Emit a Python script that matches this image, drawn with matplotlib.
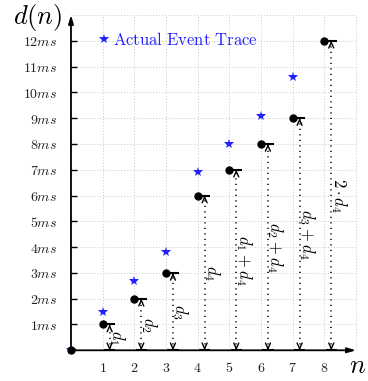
import matplotlib
matplotlib.use('Agg')
import matplotlib.pyplot as plt

plt.rcParams['mathtext.fontset'] = 'cm'
plt.rcParams['font.family'] = 'serif'

# data
n_vals = [0, 1, 2, 3, 4, 5, 6, 7, 8]
delay = [0, 1, 2, 3, 6, 7, 8, 9, 12]
actual_n = [0, 1, 2, 3, 4, 5, 6, 7]
actual = [0, 1.5, 2.7, 3.8, 6.9, 8.0, 9.1, 10.6]
delay_labels = [r'$d_1$', r'$d_2$', r'$d_3$', r'$d_4$', r'$d_1+d_4$',
                r'$d_2+d_4$', r'$d_3+d_4$', r'$2\cdot d_4$']
xticks = [1, 2, 3, 4, 5, 6, 7, 8]
yticks = list(range(1, 13))

fig = plt.figure(figsize=(3.68, 3.81), dpi=100)
ax = fig.add_axes([0.1929, 0.0806, 0.7916, 0.9005])
ax.set_xlim(0, 9.2)
ax.set_ylim(0, 13.3)

# grid
grid_kw = dict(color='#c8c8c8', lw=0.7, linestyles=(0, (1, 2)), zorder=0)
ax.vlines(range(1, 10), 0, 13, **grid_kw)
ax.hlines(range(1, 14), 0, 9, **grid_kw)

# axes arrows
for tip in [(9, 0), (0, 13)]:
    ax.annotate('', xy=tip, xytext=(0, 0), annotation_clip=False,
                arrowprops=dict(arrowstyle='-|>,head_length=0.5,head_width=0.15',
                                lw=1.3, color='black', shrinkA=0, shrinkB=0))

for spine in ax.spines.values():
    spine.set_visible(False)

# delay arrows
off = 0.22
for x, y in zip(n_vals[1:], delay[1:]):
    xa = x + off
    ax.vlines(xa, 0, y, color='black', lw=1.1, linestyles=(0, (0.8, 2.8)), zorder=2)
    ax.hlines([0, y], xa - 0.18, xa + 0.18, color='black', lw=1.5, zorder=3)
    for end, start in [(y, y - 0.05), (0, 0.05)]:
        ax.annotate('', xy=(xa, end), xytext=(xa, start),
                    arrowprops=dict(arrowstyle='->,head_length=0.4,head_width=0.18',
                                    lw=1.0, color='black', shrinkA=0, shrinkB=0))

for x, y, lab in zip(n_vals[1:], delay[1:], delay_labels):
    ax.text(x + 0.45, y / 2, lab, rotation=-90, ha='center', va='center',
            fontsize=12, color='black')

ax.plot(actual_n, actual, linestyle='none', marker='*', ms=7, color='#2222ff',
        mec='#2222ff', mew=0, label=r'$\mathrm{Actual\ Event\ Trace}$',
        zorder=4, clip_on=False)
ax.plot(n_vals, delay, linestyle='none', marker='o', ms=5, color='black', zorder=5,
        clip_on=False)

ax.legend(loc='center left', bbox_to_anchor=(0.8, 12), bbox_transform=ax.transData,
          frameon=False, borderpad=0, borderaxespad=0, handlelength=0.9,
          handletextpad=0.1, fontsize=12, labelcolor='#2222ff', numpoints=1)

ax.set_xticks(xticks)
ax.set_xticklabels([rf'${v}$' for v in xticks], fontsize=10, color='#222222')
ax.set_yticks(yticks)
ax.set_yticklabels([rf'${v}ms$' for v in yticks], fontsize=10, color='#222222')
ax.tick_params(axis='x', length=0, pad=8)
ax.tick_params(axis='y', direction='in', length=4, width=1, pad=10)

ax.text(-1.04, 12.9, r'$d(n)$', fontsize=19, ha='center', va='center', clip_on=False)
ax.text(9.05, -0.6, r'$n$', fontsize=19, ha='center', va='center', clip_on=False)

fig.savefig('out.png', dpi=100)
